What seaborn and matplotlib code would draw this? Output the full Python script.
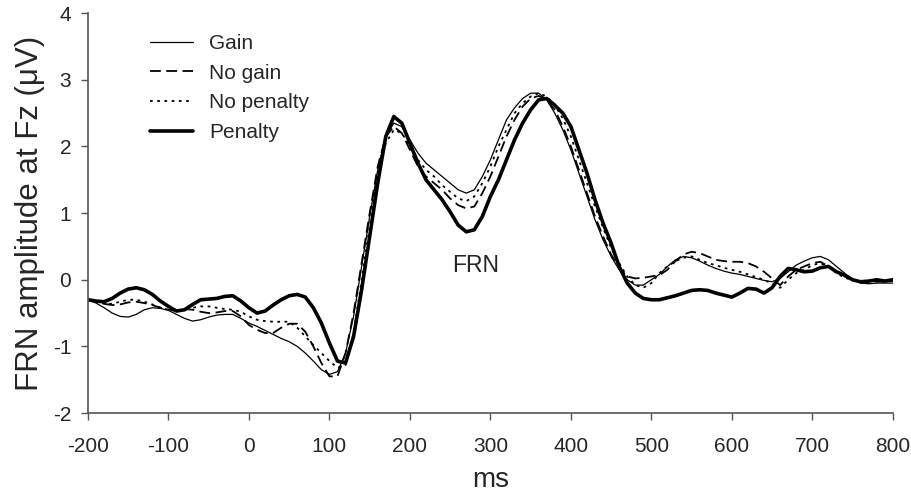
import numpy as np
import pandas as pd
import matplotlib
matplotlib.use("Agg")
import matplotlib.pyplot as plt
import seaborn as sns

# =====================================
# DATA (10 ms steps)
# =====================================

time_ms = list(range(-200, 801, 10))

gain = [
    -0.30, -0.35, -0.42, -0.50, -0.55, -0.56, -0.52, -0.45, -0.42, -0.43,
    -0.46, -0.52, -0.58, -0.62, -0.60, -0.56, -0.53, -0.52, -0.52, -0.58,
    -0.65, -0.70, -0.76, -0.82, -0.88, -0.93, -1.00, -1.10, -1.22, -1.35,
    -1.42, -1.38, -1.10, -0.55, 0.20, 0.95, 1.65, 2.15, 2.35, 2.30,
    2.10, 1.90, 1.75, 1.65, 1.55, 1.45, 1.35, 1.30, 1.35, 1.55,
    1.80, 2.10, 2.40, 2.58, 2.72, 2.80, 2.80, 2.70, 2.50, 2.25,
    1.95, 1.60, 1.25, 0.90, 0.60, 0.35, 0.15, 0.00, -0.08, -0.08,
    0.00, 0.08, 0.20, 0.30, 0.35, 0.33, 0.28, 0.22, 0.17, 0.13,
    0.10, 0.08, 0.05, 0.02, -0.01, -0.03, 0.02, 0.12, 0.22, 0.28,
    0.33, 0.35, 0.30, 0.20, 0.10, 0.00, -0.05, -0.06, -0.05, -0.05,
    -0.05,
]

no_gain = [
    -0.30, -0.33, -0.36, -0.38, -0.37, -0.34, -0.33, -0.35, -0.38, -0.42,
    -0.45, -0.46, -0.44, -0.45, -0.48, -0.50, -0.49, -0.47, -0.47, -0.55,
    -0.68, -0.75, -0.80, -0.80, -0.72, -0.66, -0.66, -0.78, -1.00, -1.25,
    -1.45, -1.45, -1.10, -0.50, 0.25, 1.00, 1.70, 2.15, 2.30, 2.20,
    1.95, 1.70, 1.55, 1.45, 1.35, 1.22, 1.12, 1.07, 1.10, 1.30,
    1.55, 1.85, 2.15, 2.40, 2.60, 2.72, 2.76, 2.70, 2.55, 2.30,
    2.00, 1.65, 1.30, 0.95, 0.65, 0.38, 0.18, 0.05, 0.02, 0.03,
    0.05, 0.07, 0.15, 0.28, 0.38, 0.42, 0.40, 0.35, 0.30, 0.28,
    0.27, 0.27, 0.25, 0.20, 0.12, 0.02, -0.08, 0.05, 0.15, 0.20,
    0.25, 0.27, 0.20, 0.12, 0.05, 0.00, -0.02, -0.02, -0.03, -0.02,
    -0.02,
]

no_penalty = [
    -0.30, -0.33, -0.36, -0.36, -0.33, -0.30, -0.30, -0.33, -0.37, -0.42,
    -0.45, -0.47, -0.45, -0.42, -0.40, -0.40, -0.42, -0.44, -0.45, -0.48,
    -0.55, -0.60, -0.62, -0.63, -0.63, -0.63, -0.72, -0.85, -0.98, -1.10,
    -1.22, -1.32, -1.28, -0.80, 0.00, 0.80, 1.55, 2.05, 2.25, 2.20,
    2.00, 1.80, 1.65, 1.55, 1.42, 1.32, 1.22, 1.18, 1.25, 1.45,
    1.70, 2.00, 2.25, 2.50, 2.65, 2.75, 2.80, 2.75, 2.62, 2.42,
    2.15, 1.80, 1.45, 1.10, 0.78, 0.48, 0.25, 0.05, -0.08, -0.12,
    -0.05, 0.10, 0.20, 0.28, 0.33, 0.35, 0.30, 0.25, 0.22, 0.18,
    0.15, 0.12, 0.08, 0.04, 0.00, -0.06, -0.12, 0.00, 0.10, 0.15,
    0.22, 0.25, 0.20, 0.10, 0.03, 0.00, -0.03, -0.03, -0.02, -0.02,
    -0.02,
]

penalty = [
    -0.30, -0.32, -0.33, -0.28, -0.20, -0.14, -0.12, -0.15, -0.22, -0.32,
    -0.40, -0.47, -0.45, -0.37, -0.30, -0.29, -0.28, -0.25, -0.24, -0.32,
    -0.42, -0.50, -0.47, -0.38, -0.30, -0.24, -0.22, -0.26, -0.42, -0.65,
    -0.95, -1.22, -1.25, -0.85, -0.15, 0.65, 1.45, 2.15, 2.45, 2.35,
    2.05, 1.75, 1.50, 1.35, 1.20, 1.02, 0.82, 0.72, 0.75, 0.95,
    1.25, 1.50, 1.80, 2.10, 2.35, 2.55, 2.70, 2.72, 2.62, 2.50,
    2.30, 1.95, 1.60, 1.20, 0.85, 0.55, 0.20, -0.05, -0.20, -0.28,
    -0.30, -0.30, -0.27, -0.24, -0.20, -0.16, -0.15, -0.16, -0.20, -0.23,
    -0.26, -0.20, -0.13, -0.14, -0.20, -0.12, 0.05, 0.17, 0.15, 0.12,
    0.13, 0.18, 0.20, 0.12, 0.07, 0.00, -0.03, -0.02, 0.00, -0.02,
    0.00,
]

conditions = ["Gain", "No gain", "No penalty", "Penalty"]

# =====================================
# LONG TABLE
# =====================================

df = pd.concat([
    pd.DataFrame({"ms": time_ms, "amp": vals, "cond": name})
    for name, vals in zip(conditions, [gain, no_gain, no_penalty, penalty])
])

# =====================================
# STYLE
# =====================================

sns.set_style("ticks")
plt.rcParams["font.family"] = ["Liberation Sans", "DejaVu Sans"]
plt.rcParams["axes.unicode_minus"] = False

styles = {
    "Gain": dict(lw=0.9, ls="-"),
    "No gain": dict(lw=1.3, ls=(0, (6, 3))),
    "No penalty": dict(lw=1.3, ls=(0, (1.5, 2.5))),
    "Penalty": dict(lw=2.6, ls="-"),
}

# =====================================
# PLOT
# =====================================

fig = plt.figure(figsize=(9.11, 5.01), dpi=100)
ax = fig.add_axes([0.0966, 0.1756, 0.8834, 0.798])

for name in conditions:
    sns.lineplot(
        data=df[df["cond"] == name],
        x="ms",
        y="amp",
        color="black",
        linewidth=styles[name]["lw"],
        linestyle=styles[name]["ls"],
        label=name,
        ax=ax,
    )

ax.set_xlim(-200, 800)
ax.set_ylim(-2, 4)
ax.set_xticks(range(-200, 801, 100))
ax.set_yticks(range(-2, 5))

ax.set_xlabel("ms", fontsize=20, labelpad=8)
ax.set_ylabel("FRN amplitude at Fz (\u03bcV)", fontsize=22.5, labelpad=6)

ax.tick_params(axis="both", labelsize=15, direction="out", length=5,
               width=1, color="#555555")
ax.tick_params(axis="x", pad=12)
ax.tick_params(axis="y", pad=7)

for side in ["top", "right"]:
    ax.spines[side].set_visible(False)
for side in ["left", "bottom"]:
    ax.spines[side].set_color("#555555")
    ax.spines[side].set_linewidth(1.2)

ax.text(282, 0.22, "FRN", fontsize=16.5, ha="center", va="center")

ax.legend(
    loc="upper left",
    bbox_to_anchor=(0.077, 0.948),
    borderaxespad=0,
    borderpad=0,
    frameon=False,
    fontsize=15,
    handlelength=2.07,
    labelspacing=0.51,
    handletextpad=0.77,
)

fig.savefig("out.png", dpi=100)
